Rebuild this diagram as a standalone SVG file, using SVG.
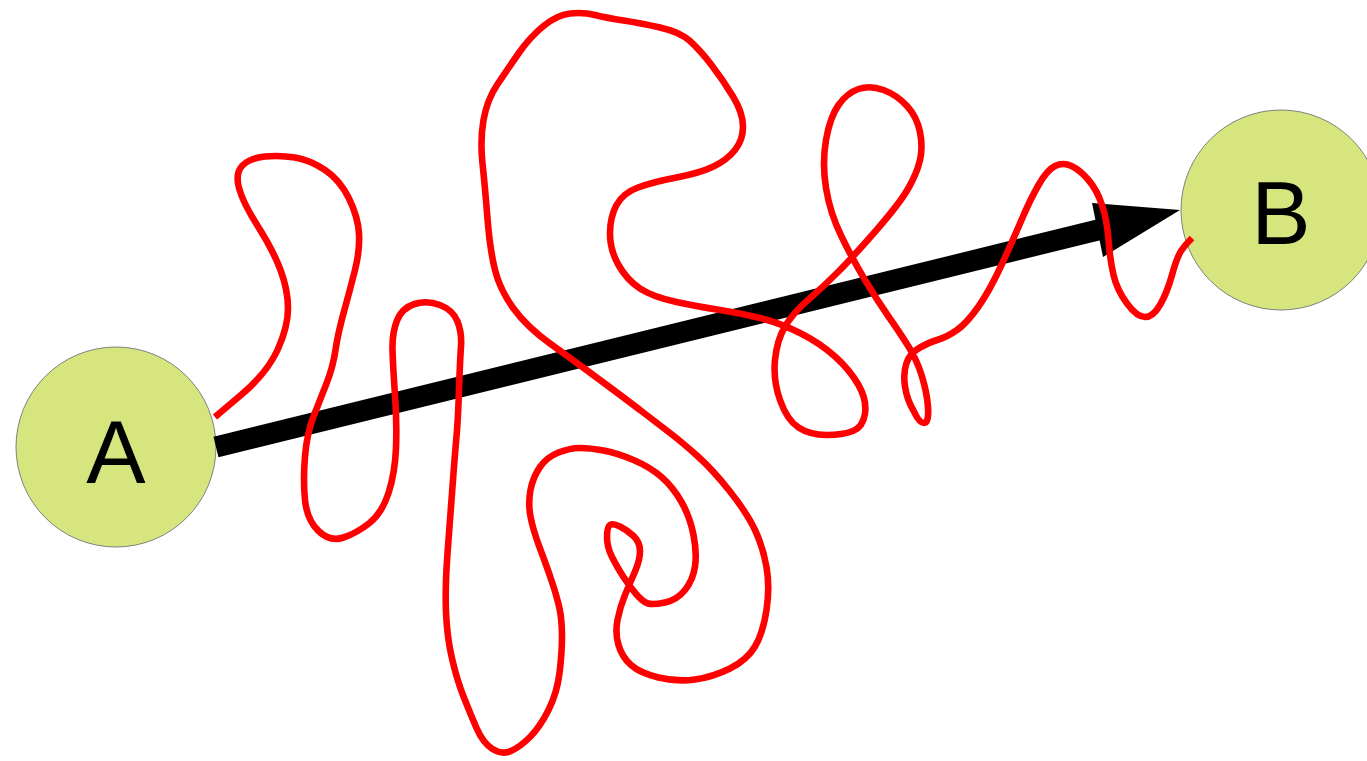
<svg xmlns="http://www.w3.org/2000/svg" width="1367" height="761" viewBox="0 0 1367 761">
<style>
.node{fill:#d7e57f;stroke:#808080;stroke-width:1}
.lbl{font-family:"Liberation Sans",Arial,sans-serif;font-size:89px;fill:#000;text-anchor:middle}
.wiggle{fill:none;stroke:#ff0000;stroke-width:6.6;stroke-linejoin:round;stroke-linecap:butt}
</style>
<rect width="1367" height="761" fill="#ffffff"/>
<g id="node-A">
<circle class="node" cx="116" cy="447" r="100"/>
<text class="lbl" x="116" y="483">A</text>
</g>
<g id="node-B">
<circle class="node" cx="1281" cy="210" r="100"/>
<text class="lbl" x="1281" y="244">B</text>
</g>
<g id="connectors">
<line x1="216" y1="447" x2="1106" y2="228" stroke="#000" stroke-width="21"/>
<polygon points="1092,203 1180,210 1103,257" fill="#000"/>
<path class="wiggle" d="M215,417 L241,395 Q267,373 277.5,350 Q288,327 288,308.5 Q288,290 280.5,270 Q273,250 258,226.5 Q243,203 239,188 Q235,173 242.5,165.5 Q250,158 265,156.5 Q280,155 295,157.5 Q310,160 325,170 Q340,180 349,198.5 Q358,217 359,233.5 Q360,250 355,270 Q350,290 344,311.5 Q338,333 335.5,350 Q333,367 326.5,383.5 Q320,400 313.5,416.5 Q307,433 305,456.5 Q303,480 305,500 Q307,520 318.5,531 Q330,542 343.5,537.5 Q357,533 369.5,523 Q382,513 388.5,493 Q395,473 396,448 Q397,423 395,395 Q393,367 392.5,350 Q392,333 397,320.5 Q402,308 414.5,304 Q427,300 440,305 Q453,310 457.5,321.5 Q462,333 461,346.5 Q460,360 459,390 Q458,420 456.5,436.5 Q455,453 452.5,486.5 Q450,520 447.5,553.5 Q445,587 446,612 Q447,637 452,658.5 Q457,680 463.5,696.5 Q470,713 476.5,728 Q483,743 492.5,749 Q502,755 511,751 Q520,747 530,737 Q540,727 548.5,710 Q557,693 559.5,673 Q562,653 562,636.5 Q562,620 559.5,608.5 Q557,597 552,582 Q547,567 540,548.5 Q533,530 530.5,516.5 Q528,503 530.5,490 Q533,477 540,467 Q547,457 558.5,452.5 Q570,448 580,448 Q590,448 603.5,450.5 Q617,453 633.5,460 Q650,467 661.5,477 Q673,487 681.5,502 Q690,517 693.5,535 Q697,553 695,566.5 Q693,580 685,590 Q677,600 665,602.5 Q653,605 648,603.5 Q643,602 636.5,594.5 Q630,587 623.5,577 Q617,567 612,557 Q607,547 607,537 Q607,527 610,525 Q613,523 620,526.5 Q627,530 633.5,536 Q640,542 640,551 Q640,560 635,571.5 Q630,583 625,595 Q620,607 617.5,620 Q615,633 618.5,645 Q622,657 631,665 Q640,673 658.5,677.5 Q677,682 695,679.5 Q713,677 730,668.5 Q747,660 755,646.5 Q763,633 766.5,610 Q770,587 766.5,567 Q763,547 755,530 Q747,513 730,491.5 Q713,470 698,456.5 Q683,443 670,433 Q657,423 642,411.5 Q627,400 600,380 Q573,360 550,343.5 Q527,327 513.5,308.5 Q500,290 495,270 Q490,250 487.5,218.5 Q485,187 482.5,163.5 Q480,140 483.5,120 Q487,100 497,85 Q507,70 518.5,53.5 Q530,37 543.5,26 Q557,15 570,13.5 Q583,12 595,15 Q607,18 623.5,20.5 Q640,23 660,27.5 Q680,32 690,41 Q700,50 711.5,65 Q723,80 733,96.5 Q743,113 743,126.5 Q743,140 735,150 Q727,160 713.5,166.5 Q700,173 676.5,177.5 Q653,182 638,187.5 Q623,193 616.5,205 Q610,217 610,233.5 Q610,250 618.5,265 Q627,280 640,288.5 Q653,297 676.5,302 Q700,307 720,310 Q740,313 760,318 Q780,323 800,333 Q820,343 835,356.5 Q850,370 858.5,385 Q867,400 865,413.5 Q863,427 853,431 Q843,435 826.5,435 Q810,435 798.5,427.5 Q787,420 780,400 Q773,380 775,360 Q777,340 785,326.5 Q793,313 808,300 Q823,287 838,272 Q853,257 876.5,230 Q900,203 908.5,188 Q917,173 920,160 Q923,147 920,132 Q917,117 907,106 Q897,95 883.5,90 Q870,85 858.5,89 Q847,93 838.5,105 Q830,117 826,140 Q822,163 826,188 Q830,213 841.5,236.5 Q853,260 865,280 Q877,300 888.5,316.5 Q900,333 908.5,346.5 Q917,360 922,376.5 Q927,393 928,407 Q929,423 924,423 Q919,423 913.5,410.5 Q907,400 905,386.5 Q903,373 906.5,363 Q910,353 920,347.5 Q930,342 938.5,339.5 Q947,337 957,330 Q967,323 978.5,306.5 Q990,290 1001.5,265 Q1013,240 1021.5,220 Q1030,200 1038.5,185 Q1047,170 1055,166 Q1063,162 1071.5,166 Q1080,170 1088.5,180 Q1097,190 1102,205 Q1107,220 1108.5,240 Q1110,260 1113.5,275 Q1117,290 1127,303.5 Q1137,317 1145,317 Q1153,317 1160,305 Q1167,293 1172,275 Q1177,257 1181,251 Q1185,245 1192,238"/>
</g>
</svg>
